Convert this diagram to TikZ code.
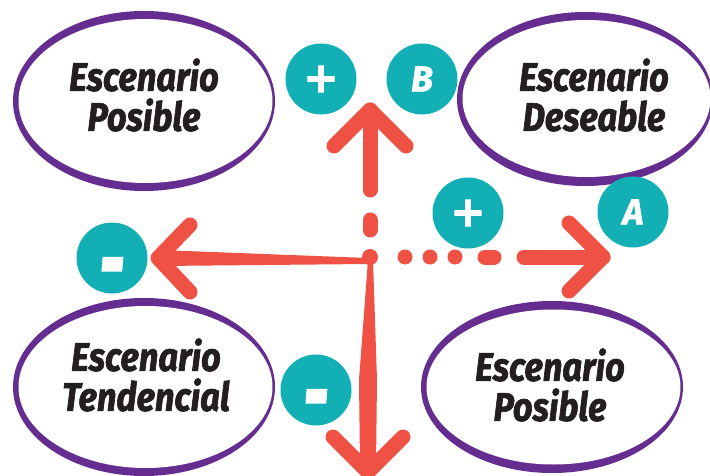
\documentclass[tikz,border=0pt]{standalone}
\usepackage{fontspec}
\usetikzlibrary{shapes.geometric}
\newfontfamily\scenfont{Fira Sans}[FakeStretch=0.86,FakeBold=1.6]
\newfontfamily\circfont{Fira Sans}[FakeBold=1.5]
\newfontfamily\plusfont{DejaVu Sans}[FakeBold=2.5]
\definecolor{arrred}{HTML}{EF5245}
\definecolor{tealc}{HTML}{12B0B5}
\definecolor{purp}{HTML}{662D91}
\definecolor{ink}{HTML}{231F20}
\begin{document}
\begin{tikzpicture}[x=1pt,y=-1pt,
  ering/.style={ellipse, fill=purp, inner sep=0pt, outer sep=0pt},
  einner/.style={ellipse, fill=white, inner sep=0pt, outer sep=0pt},
  scen/.style={align=center, text=ink, inner sep=0pt, font=\scenfont\bfseries\itshape\fontsize{40}{40}\selectfont},
  badge/.style={circle, fill=tealc, minimum size=71pt, inner sep=0pt, text=white, font=\circfont\bfseries\itshape\fontsize{36}{36}\selectfont},
  arr/.style={draw=arrred, line width=15pt, line cap=round, line join=round},
  taper/.style={fill=arrred},
  hub/.style={circle, fill=arrred, minimum size=16pt, inner sep=0pt}
]
\useasboundingbox (0,0) rectangle (710,476);
\fill[white] (0,0) rectangle (710,476);
\begin{scope}
\clip (0,0) rectangle (710,476);
% ellipses
\node[ering, minimum width=262pt, minimum height=180pt] (e1) at (144,101) {};
\node[einner, minimum width=254pt, minimum height=164pt] (e1i) at ([xshift=1.5pt]e1.center) {};
\node[ering, minimum width=256pt, minimum height=174pt] (e2) at (585,99) {};
\node[einner, minimum width=248pt, minimum height=157pt] (e2i) at ([xshift=1.5pt,yshift=0.5pt]e2.center) {};
\node[ering, minimum width=262pt, minimum height=178pt] (e3) at (144,387) {};
\node[einner, minimum width=254pt, minimum height=162pt] (e3i) at ([xshift=1.5pt]e3.center) {};
\node[ering, minimum width=262pt, minimum height=172pt] (e4) at (552,387) {};
\node[einner, minimum width=254pt, minimum height=155pt] (e4i) at ([xshift=1.5pt]e4.center) {};
% texts
\node[scen] (t1) at (144,95) {Escenario\\Posible};
\node[scen] (t2) at (594,95) {Escenario\\Deseable};
\node[scen] (t3) at (146,375) {Escenario\\Tendencial};
\node[scen] (t4) at (550,385) {Escenario\\Posible};
% arrows
\node[hub] (o) at (370,257) {};
\coordinate (tipU) at (370,110);
\coordinate (tipR) at (603,257);
\coordinate (tipL) at (158,258);
\coordinate (tipD) at (368,472);
% up
\draw[arr, dash pattern=on 80pt off 30pt on 10pt off 200pt] (tipU) -- (o.center);
\draw[arr] ([shift={(-36,36)}]tipU) -- (tipU) -- ([shift={(36,36)}]tipU);
% right
\draw[arr, dash pattern=on 0pt off 35pt on 0pt off 25pt on 0pt off 25pt on 0pt off 30pt on 9pt off 30pt on 79pt off 60pt] (o.center) -- (tipR);
\draw[arr] ([shift={(-34,-34)}]tipR) -- (tipR) -- ([shift={(-34,34)}]tipR);
% left
\fill[taper] ([shift={(-2,1)}]o.center) -- ([shift={(2,-8)}]tipL) -- ([shift={(2,8)}]tipL) -- ([shift={(-2,7)}]o.center) -- cycle;
\draw[arr] ([shift={(32,-33)}]tipL) -- (tipL) -- ([shift={(32,34)}]tipL);
% down
\fill[taper] ([shift={(-2,3)}]o.center) -- ([shift={(3,3)}]o.center) -- ([shift={(9,-92)}]tipD) -- ([shift={(8,-7)}]tipD) -- ([shift={(-8,-7)}]tipD) -- ([shift={(-9,-92)}]tipD) -- cycle;
\draw[arr] ([shift={(-35,-35)}]tipD) -- (tipD) -- ([shift={(35,-35)}]tipD);
% badges
\node[badge] (pU) at (321,79) {\plusfont\fontsize{42}{42}\selectfont +};
\node[badge] (bB) at (422,79) {B};
\node[badge] (pM) at (468,213) {\plusfont\fontsize{42}{42}\selectfont +};
\node[badge] (aA) at (633,212) {A};
\node[badge] (mL) at (112,258) {\raisebox{-40pt}[0pt][0pt]{\scalebox{1.75}[3.0]{-}}};
\node[badge] (mB) at (316,390) {\raisebox{-40pt}[0pt][0pt]{\scalebox{1.75}[3.0]{-}}};
\end{scope}
\end{tikzpicture}
\end{document}
